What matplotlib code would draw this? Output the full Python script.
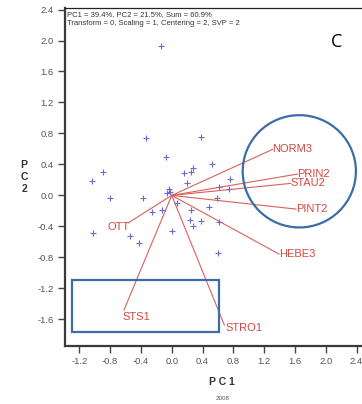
import matplotlib.pyplot as plt
from matplotlib.patches import Rectangle, Ellipse

# sample scores (blue crosses)
pt_x = [-0.14, -0.33, -0.07, 0.38, 0.52, 0.27, 0.25, 0.16, 0.20, 0.76, 0.61, 0.74,
        -0.03, -0.06, 0.59, -0.89, -1.03, -0.80, -0.37, -0.26, -0.13, -1.02, -0.54,
        -0.43, 0.07, 0.25, 0.48, 0.24, 0.38, 0.62, 0.27, 0.01, 0.60, -0.02]
pt_y = [1.93, 0.74, 0.49, 0.76, 0.40, 0.36, 0.30, 0.29, 0.16, 0.21, 0.11, 0.08,
        0.08, 0.03, -0.03, 0.30, 0.18, -0.04, -0.03, -0.21, -0.19, -0.48, -0.53,
        -0.61, -0.10, -0.19, -0.15, -0.32, -0.33, -0.35, -0.40, -0.46, -0.74, 0.05]

# variable loadings (red vectors)
var_names = ['NORM3', 'PRIN2', 'STAU2', 'PINT2', 'HEBE3', 'OTT', 'STS1', 'STRO1']
var_x = [1.31, 1.63, 1.545, 1.614, 1.394, -0.568, -0.619, 0.683]
var_y = [0.594, 0.275, 0.155, -0.177, -0.758, -0.357, -1.478, -1.674]
# label placement (offset in points, horizontal alignment)
lab_off = [(0, 0), (0, 0), (0, 0), (0, 0), (0, 0), (1, -3), (-1, -5), (1, -2.5)]
lab_ha = ['left', 'left', 'left', 'left', 'left', 'right', 'left', 'left']

xticks = [-1.2, -0.8, -0.4, 0.0, 0.4, 0.8, 1.2, 1.6, 2.0, 2.4]
yticks = [-1.6, -1.2, -0.8, -0.4, 0.0, 0.4, 0.8, 1.2, 1.6, 2.0, 2.4]

plt.rcParams['font.family'] = ['Liberation Sans', 'DejaVu Sans']

fig = plt.figure(figsize=(3.62, 4.04), dpi=100)
ax = fig.add_axes([65 / 362, 58 / 404, 315 / 362, 338 / 404])
ax.set_xlim(-1.386, 2.705)
ax.set_ylim(-1.945, 2.42)

red = '#d9605c'
for x, y, name, off, ha in zip(var_x, var_y, var_names, lab_off, lab_ha):
    ax.plot([0, x], [0, y], color=red, lw=0.8, zorder=2)
    ax.annotate(name, (x, y), xytext=off, textcoords='offset points',
                ha=ha, va='center', fontsize=8, color='#d6453f', zorder=4)

ax.plot(pt_x, pt_y, '+', color='#6a6ad6', ms=5, mew=0.8, zorder=3)

blue = '#3c6da6'
ax.add_patch(Rectangle((-1.29, -1.764), 1.904, 0.671, fill=False, ec=blue, lw=1.6, zorder=5))
ax.add_patch(Ellipse((1.657, 0.311), 1.47, 1.45, fill=False, ec=blue, lw=1.6, zorder=5))

ax.set_xticks(xticks)
ax.set_yticks(yticks)
ax.set_xticklabels(['%.1f' % v for v in xticks])
ax.set_yticklabels(['%.1f' % v for v in yticks])
ax.tick_params(direction='out', length=5, width=1, colors='#444444',
               labelsize=6.8, labelcolor='#555555', pad=3)

for s in ['left', 'bottom']:
    ax.spines[s].set_linewidth(1.6)
    ax.spines[s].set_color('#3a3a3a')
ax.spines['top'].set_linewidth(0.9)
ax.spines['top'].set_color('#222222')
ax.spines['right'].set_visible(False)

ax.text(0.005, 0.992, 'PC1 = 39.4%, PC2 = 21.5%, Sum = 60.9%\n'
        'Transform = 0, Scaling = 1, Centering = 2, SVP = 2',
        transform=ax.transAxes, ha='left', va='top', fontsize=5.5,
        color='#333333', linespacing=1.4)

fig.text(336.7 / 362, 1 - 42 / 404, 'C', fontsize=13, ha='center', va='center',
         family=['Open Sans', 'DejaVu Sans'])
fig.text(221.7 / 362, 1 - 381.7 / 404, 'P C 1', fontsize=7.5, fontweight='bold',
         ha='center', va='center', color='#333333')
fig.text(222.7 / 362, 1 - 398.3 / 404, '2008', fontsize=4.5, ha='center',
         va='center', color='#555555')
fig.text(24 / 362, 1 - 177 / 404, 'P\nC\n2', fontsize=7.5, fontweight='bold',
         ha='center', va='center', color='#333333', linespacing=1.2)

fig.savefig('out.png', dpi=100)
